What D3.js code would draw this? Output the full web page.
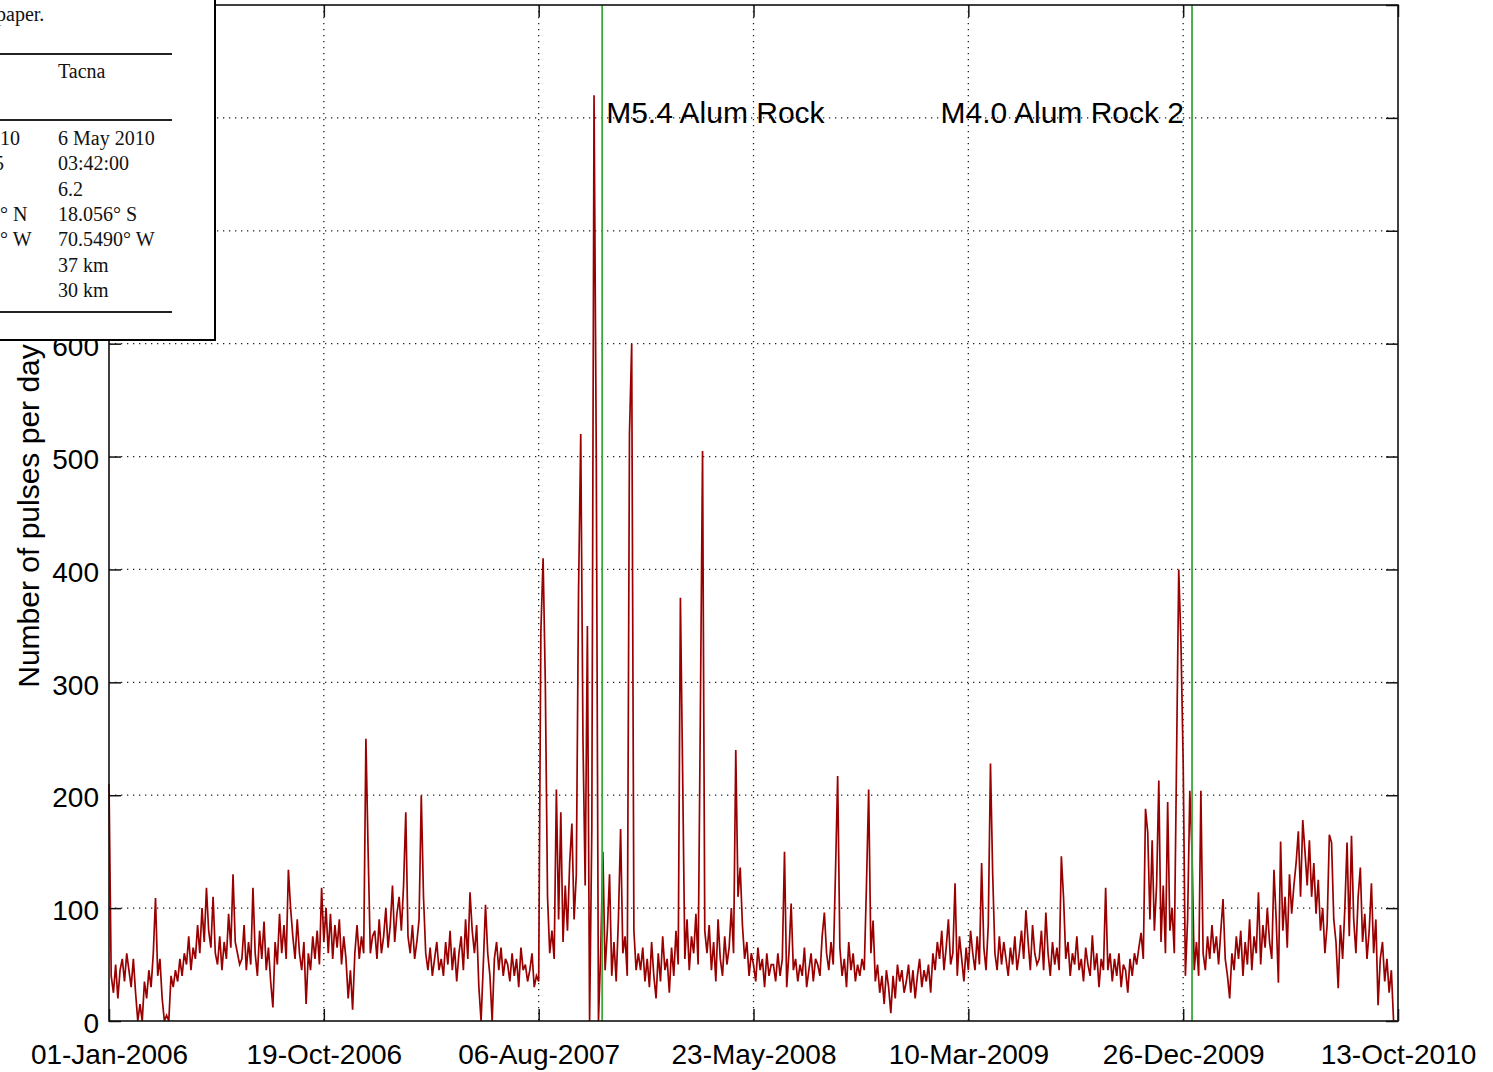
<html>
<head>
<meta charset="utf-8" />
<title>Pulses per day</title>
<script src="https://d3js.org/d3.v7.min.js"></script>
<style>
  body { margin: 0; background: #fff; }
  svg { display: block; }
  .tick text { font-family: "Liberation Sans", Arial, sans-serif; fill: #000; }
  .tick line { stroke: #111; stroke-width: 1.5px; }
  .grid line { stroke: #222; stroke-width: 1.3px; stroke-dasharray: 1.3, 4.7; }
  .tbl text { font-family: "Liberation Serif", "Times New Roman", serif; font-size: 20px; fill: #111; }
</style>
</head>
<body>
<svg id="chart" width="1493" height="1072"></svg>
<script>
// x tick labels (every 291 days)
const tickLabels = ["01-Jan-2006", "19-Oct-2006", "06-Aug-2007", "23-May-2008",
                    "10-Mar-2009", "26-Dec-2009", "13-Oct-2010"];
const yTicks = [0, 100, 200, 300, 400, 500, 600, 700, 800, 900];
const yLabelMax = 600; // higher labels sit under the pasted table

// daily pulse counts, one value every 3 days from 01-Jan-2006
const startDate = "2006-01-01";
const stepDays = 3;
const pulses = [
  210,40,25,50,20,45,55,35,60,45,30,55,25,0,15,0,35,20,45,30,60,109,40,55,20,0,5,0,40,30,
  45,35,55,40,60,50,75,45,65,55,85,60,100,70,118,80,65,110,60,50,75,45,70,55,95,65,130,70,60,50,
  55,85,45,70,50,118,60,40,80,55,88,45,65,35,12,70,50,95,60,85,55,134,100,75,55,90,60,45,70,15,
  60,45,75,55,80,50,118,70,100,60,95,55,85,65,90,50,75,55,20,45,10,60,85,55,75,60,250,150,60,75,
  80,55,90,60,75,100,65,85,120,70,95,110,80,120,185,75,60,85,55,70,90,200,110,60,45,65,40,55,70,45,
  55,40,70,50,80,45,65,35,60,75,45,90,55,114,80,60,85,30,0,50,103,60,40,0,55,70,45,65,40,55,
  50,35,60,40,55,30,65,45,50,35,45,60,30,40,35,345,410,300,110,60,80,55,205,90,185,70,120,80,140,175,
  90,130,380,520,250,120,350,0,170,820,505,0,60,150,45,80,130,40,70,35,90,170,60,75,40,520,600,80,45,60,
  45,65,35,55,30,70,40,20,60,35,75,45,55,25,65,40,80,50,375,220,55,90,45,75,60,95,50,270,505,80,
  60,85,45,70,35,90,55,40,75,50,65,100,60,240,110,136,85,55,70,40,60,50,35,65,45,55,30,60,40,50,
  50,35,60,40,55,150,30,60,104,45,55,35,50,40,65,30,45,60,35,55,50,40,75,96,60,45,70,50,130,217,
  65,40,55,30,70,45,60,35,50,40,55,45,120,205,60,89,35,50,25,40,15,45,30,7,40,20,50,35,45,25,
  35,50,25,45,20,40,55,30,45,35,50,25,60,45,70,55,80,45,65,90,50,60,122,40,75,55,35,65,45,80,
  60,45,75,50,140,65,45,85,228,130,60,45,75,50,70,55,40,65,50,75,45,60,80,55,98,70,45,85,60,50,
  55,80,45,96,60,40,70,50,65,45,146,109,55,70,40,60,50,75,45,55,35,65,50,40,76,45,60,30,55,45,
  118,45,60,35,55,40,60,30,50,45,25,55,40,60,50,65,78,55,188,167,90,160,80,120,213,70,120,60,194,80,
  100,60,230,400,335,230,40,90,204,150,45,70,40,204,60,45,75,55,85,60,75,50,80,108,55,40,20,60,45,75,
  55,80,40,70,50,90,45,75,60,114,50,85,65,100,70,55,134,90,34,159,80,110,65,130,95,120,140,168,110,178,
  150,120,160,110,140,95,125,80,100,60,85,165,158,90,70,29,85,55,100,158,75,164,90,60,110,136,70,95,55,80,
  122,60,90,14,55,70,35,55,25,45,0
];

// earthquakes marked with green lines
const eventLabels = ["M5.4 Alum Rock", "M4.0 Alum Rock 2"];
const eventDates = ["2007-10-31", "2010-01-07"];

// piece of the paper's table pasted over the corner
const tableLeft = ["10", "5", "", "\u00b0 N", "\u00b0 W", "", ""];
const tableRight = ["6 May 2010", "03:42:00", "6.2", "18.056\u00b0 S", "70.5490\u00b0 W", "37 km", "30 km"];

const svg = d3.select('#chart');
const margin = {left: 109, top: 5, right: 1398, bottom: 1021};

const parseLabel = d3.utcParse('%d-%b-%Y');
const parseIso = d3.utcParse('%Y-%m-%d');
const tickDates = tickLabels.map(parseLabel);

const x = d3.scaleUtc()
  .domain([tickDates[0], tickDates[tickDates.length - 1]])
  .range([margin.left, margin.right]);
const y = d3.scaleLinear()
  .domain([0, 900])
  .range([margin.bottom, margin.top]);

const t0 = parseIso(startDate);
const series = pulses.map((v, i) => ({date: d3.utcDay.offset(t0, i * stepDays), value: v}));

// grid
const grid = svg.append('g').attr('class', 'grid');
grid.selectAll('line.v')
  .data(tickDates.slice(1, -1))
  .enter().append('line')
    .attr('x1', d => x(d)).attr('x2', d => x(d))
    .attr('y1', margin.top).attr('y2', margin.bottom);
grid.selectAll('line.h')
  .data(yTicks.slice(1, -1))
  .enter().append('line')
    .attr('x1', margin.left).attr('x2', margin.right)
    .attr('y1', d => y(d)).attr('y2', d => y(d));

// data line
svg.append('path')
  .datum(series)
  .attr('fill', 'none')
  .attr('stroke', '#9a0000')
  .attr('stroke-width', 1.7)
  .attr('stroke-linejoin', 'miter')
  .attr('d', d3.line().x(d => x(d.date)).y(d => y(d.value)));

// event lines + labels
eventDates.forEach((d, i) => {
  const ex = x(parseIso(d));
  svg.append('line')
    .attr('x1', ex).attr('x2', ex)
    .attr('y1', margin.top).attr('y2', margin.bottom)
    .attr('stroke', '#3aa83a')
    .attr('stroke-width', 1.8);
  svg.append('text')
    .attr('x', i === 0 ? ex + 4 : ex - 8)
    .attr('y', 123)
    .attr('text-anchor', i === 0 ? 'start' : 'end')
    .style('font-family', '"Liberation Sans", Arial, sans-serif')
    .style('font-size', '30px')
    .text(eventLabels[i]);
});

// axes
const fontSize = '28px';
svg.append('g')
  .attr('transform', `translate(0,${margin.bottom})`)
  .call(d3.axisBottom(x).tickValues(tickDates).tickSize(-12).tickPadding(23)
        .tickFormat((d, i) => tickLabels[i]))
  .call(g => g.select('.domain').remove())
  .selectAll('text').style('font-size', fontSize);

svg.append('g')
  .attr('transform', `translate(0,${margin.top})`)
  .call(d3.axisTop(x).tickValues(tickDates).tickSize(-12).tickFormat(''))
  .call(g => g.select('.domain').remove());

svg.append('g')
  .attr('transform', `translate(${margin.left},0)`)
  .call(d3.axisLeft(y).tickValues(yTicks).tickSize(-12).tickPadding(10)
        .tickFormat(d => d <= yLabelMax ? d : ''))
  .call(g => g.select('.domain').remove())
  .selectAll('text').style('font-size', fontSize).attr('dy', '0.42em');

svg.append('g')
  .attr('transform', `translate(${margin.right},0)`)
  .call(d3.axisRight(y).tickValues(yTicks).tickSize(-12).tickFormat(''))
  .call(g => g.select('.domain').remove());

svg.append('rect')
  .attr('x', margin.left).attr('y', margin.top)
  .attr('width', margin.right - margin.left)
  .attr('height', margin.bottom - margin.top)
  .attr('fill', 'none')
  .attr('stroke', '#111')
  .attr('stroke-width', 1.6);

svg.append('text')
  .attr('transform', 'translate(28,516) rotate(-90)')
  .attr('text-anchor', 'middle')
  .attr('dy', '0.35em')
  .style('font-family', '"Liberation Sans", Arial, sans-serif')
  .style('font-size', '30px')
  .text('Number of pulses per day');

// table overlay
const tbl = svg.append('g').attr('class', 'tbl');
tbl.append('rect')
  .attr('x', -3).attr('y', -3)
  .attr('width', 218).attr('height', 343)
  .attr('fill', '#fff')
  .attr('stroke', '#000')
  .attr('stroke-width', 2);
tbl.append('text').attr('x', -4).attr('y', 21).text('paper.');
[54, 120, 312].forEach(ry => {
  tbl.append('line')
    .attr('x1', 0).attr('x2', 172)
    .attr('y1', ry).attr('y2', ry)
    .attr('stroke', '#222').attr('stroke-width', 2);
});
tbl.append('text').attr('x', 58).attr('y', 78).text('Tacna');
tbl.selectAll('text.r')
  .data(tableRight)
  .enter().append('text')
    .attr('x', 58)
    .attr('y', (d, i) => 145 + i * 25.3)
    .text(d => d);
tbl.selectAll('text.l')
  .data(tableLeft)
  .enter().append('text')
    .attr('x', (d, i) => i === 1 ? -6 : 0)
    .attr('y', (d, i) => 145 + i * 25.3)
    .text(d => d);
</script>
</body>
</html>
